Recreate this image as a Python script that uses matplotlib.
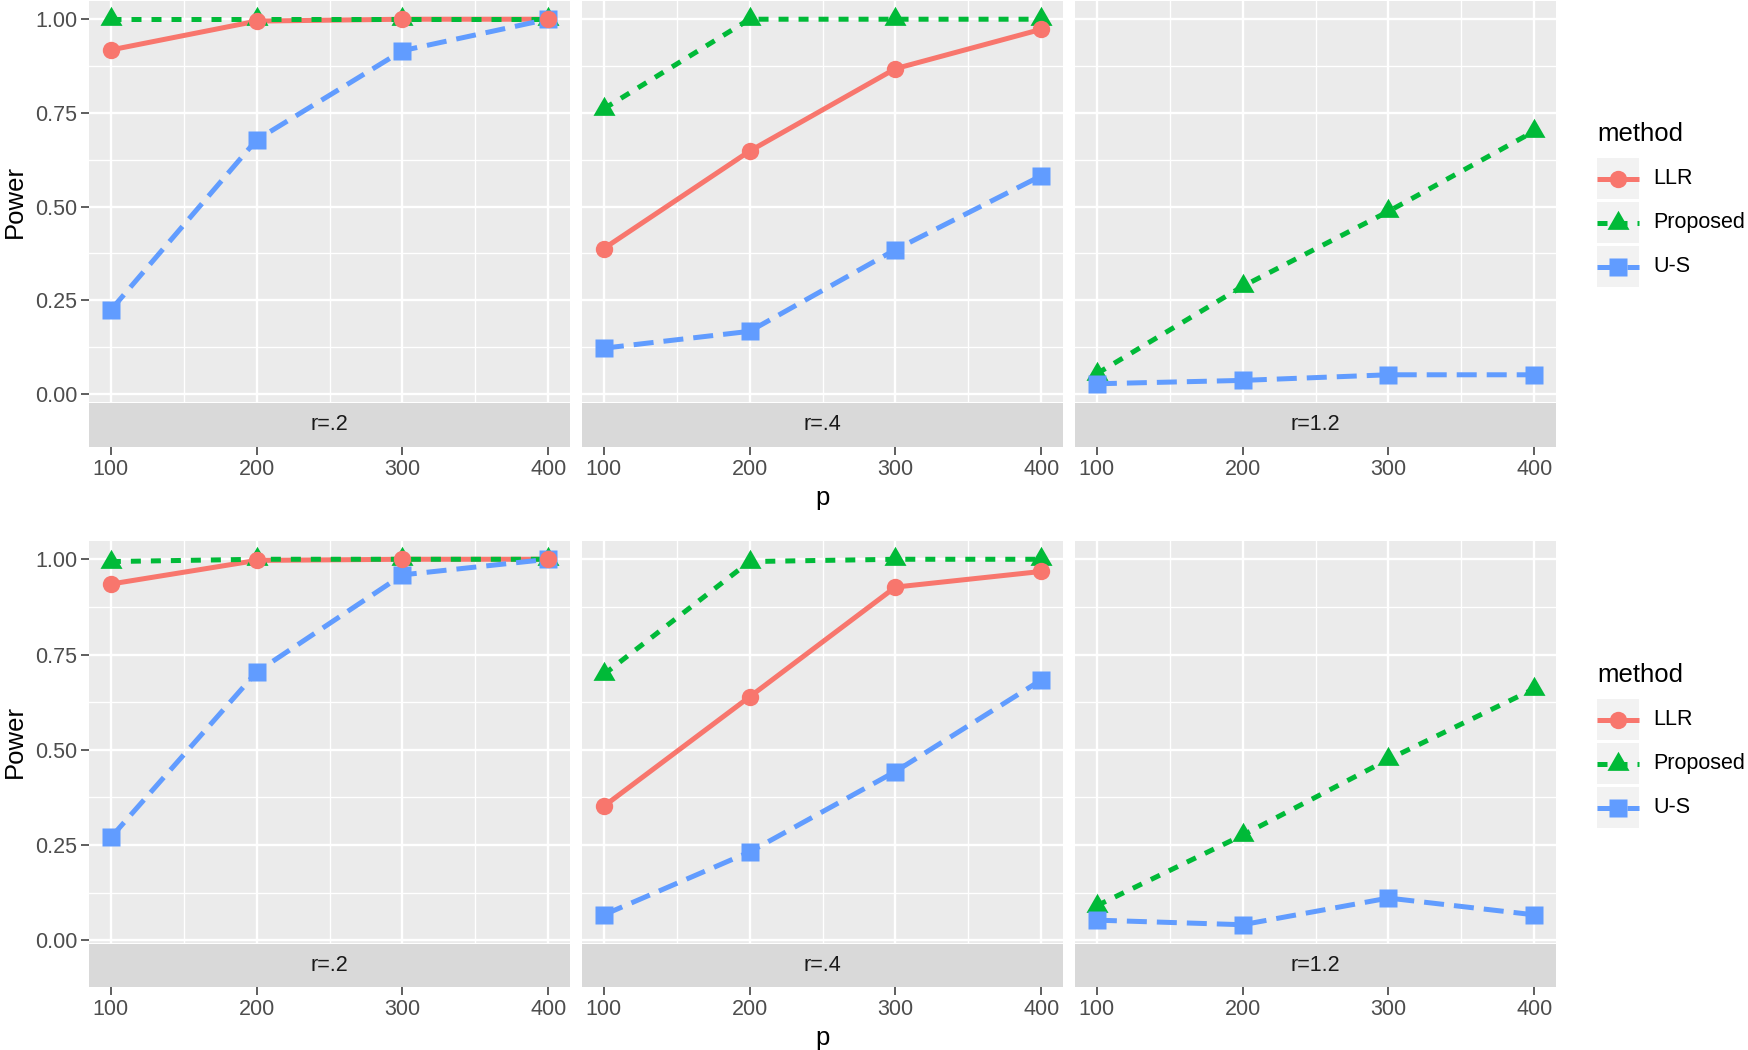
import numpy as np
import matplotlib
matplotlib.use("Agg")
import matplotlib.pyplot as plt
from matplotlib.patches import Rectangle
from matplotlib.lines import Line2D

# ---------------- data ----------------
p = [100, 200, 300, 400]
panel_labels = ["r=.2", "r=.4", "r=1.2"]
methods = ["LLR", "Proposed", "U-S"]
nan = np.nan

# top row (one list per facet)
top_llr = [[0.918, 0.995, 1.000, 1.000],
           [0.388, 0.648, 0.868, 0.973],
           [nan, nan, nan, nan]]
top_proposed = [[1.000, 1.000, 1.000, 1.000],
                [0.761, 1.000, 1.000, 1.000],
                [0.054, 0.287, 0.487, 0.701]]
top_us = [[0.224, 0.678, 0.916, 1.000],
          [0.122, 0.167, 0.385, 0.582],
          [0.027, 0.036, 0.051, 0.051]]

# bottom row
bot_llr = [[0.935, 0.997, 1.000, 1.000],
           [0.352, 0.639, 0.927, 0.968],
           [nan, nan, nan, nan]]
bot_proposed = [[0.994, 1.000, 1.000, 1.000],
                [0.698, 0.994, 1.000, 1.000],
                [0.091, 0.276, 0.475, 0.660]]
bot_us = [[0.270, 0.704, 0.959, 1.000],
          [0.067, 0.232, 0.443, 0.683],
          [0.053, 0.041, 0.111, 0.067]]

y_ticks = [0.00, 0.25, 0.50, 0.75, 1.00]
y_minor = [0.125, 0.375, 0.625, 0.875]
x_minor = [150, 250, 350]

# ---------------- style ----------------
plt.rcParams['font.family'] = ['Liberation Sans', 'DejaVu Sans']
colors = {"LLR": "#F8766D", "Proposed": "#00BA38", "U-S": "#619CFF"}
dashes = {"LLR": None, "Proposed": (2, 2), "U-S": (4, 2)}
markers = {"LLR": ("o", 12.5), "Proposed": ((3, 0, 0), 18.3), "U-S": ("s", 12.5)}
LW = 3.6
TXT = 15.5
TITLE = 18.5

W, H = 1749, 1050
fig = plt.figure(figsize=(W / 100, H / 100), dpi=100)


def px_rect(x0, y0, x1, y1):
    return [x0 / W, 1 - y1 / H, (x1 - x0) / W, (y1 - y0) / H]


cols_px = [(89, 570), (582, 1063), (1075, 1556)]
rows_px = [dict(panel=(1, 402), strip=(403, 447), pbase=505, leg_off=0),
           dict(panel=(541, 943), strip=(944, 987), pbase=1045, leg_off=541)]
row_data = [(top_llr, top_proposed, top_us), (bot_llr, bot_proposed, bot_us)]

xlo = min(p) - 0.05 * (max(p) - min(p))
xhi = max(p) + 0.05 * (max(p) - min(p))

for r, (rp, data) in enumerate(zip(rows_px, row_data)):
    allv = np.array(data, dtype=float)
    vmin, vmax = np.nanmin(allv), np.nanmax(allv)
    ylo = vmin - 0.05 * (vmax - vmin)
    yhi = vmax + 0.05 * (vmax - vmin)
    for c, (x0, x1) in enumerate(cols_px):
        ax = fig.add_axes(px_rect(x0, rp['panel'][0], x1, rp['panel'][1]))
        ax.set_facecolor('#EBEBEB')
        for s in ax.spines.values():
            s.set_visible(False)
        ax.set_xlim(xlo, xhi)
        ax.set_ylim(ylo, yhi)
        ax.set_xticks(p)
        ax.set_xticks(x_minor, minor=True)
        ax.set_yticks(y_ticks)
        ax.set_yticks(y_minor, minor=True)
        ax.grid(which='major', color='white', lw=1.7)
        ax.grid(which='minor', color='white', lw=0.95)
        ax.set_axisbelow(True)
        ax.tick_params(axis='x', which='both', length=0, labelbottom=False)
        ax.tick_params(axis='y', which='minor', length=0)
        if c == 0:
            ax.set_yticklabels([f"{v:.2f}" for v in y_ticks])
            ax.tick_params(axis='y', which='major', length=5.8, width=1.1,
                           color='#333333', labelcolor='#4D4D4D',
                           labelsize=TXT, pad=2.5)
        else:
            ax.tick_params(axis='y', which='major', length=0, labelleft=False)

        # lines
        for i, (m, series) in enumerate(zip(methods, data)):
            kw = dict(color=colors[m], lw=LW, solid_capstyle='butt',
                      dash_capstyle='butt', zorder=2 + i)
            if dashes[m] is not None:
                kw['dashes'] = dashes[m]
            ax.plot(p, series[c], **kw)
        # points (Proposed, U-S, LLR on top)
        for zi, m in enumerate(["Proposed", "U-S", "LLR"]):
            series = data[methods.index(m)]
            mk, ms = markers[m]
            ax.plot(p, series[c], ls='none', marker=mk, ms=ms,
                    mfc=colors[m], mec='none', zorder=10 + zi)

        # strip with x axis below
        sax = fig.add_axes(px_rect(x0, rp['strip'][0], x1, rp['strip'][1]))
        sax.set_facecolor('#D9D9D9')
        for s in sax.spines.values():
            s.set_visible(False)
        sax.set_xlim(xlo, xhi)
        sax.set_ylim(0, 1)
        sax.set_yticks([])
        sax.set_xticks(p)
        sax.set_xticklabels([str(v) for v in p])
        sax.tick_params(axis='x', length=5.8, width=1.1, color='#333333',
                        labelcolor='#4D4D4D', labelsize=TXT, pad=3)
        sax.text(0.5, 0.5, panel_labels[c], transform=sax.transAxes,
                 ha='center', va='center', fontsize=TXT, color='#1A1A1A')

    # axis titles
    pc = (rp['panel'][0] + rp['panel'][1]) / 2
    fig.text(15 / W, 1 - pc / H, "Power", rotation=90, ha='center',
             va='center', fontsize=TITLE, color='black')
    fig.text(822.5 / W, 1 - rp['pbase'] / H, "p", ha='center',
             va='baseline', fontsize=TITLE, color='black')

# ---------------- legends (drawn in a pixel overlay) ----------------
ov = fig.add_axes([0, 0, 1, 1])
ov.set_xlim(0, W)
ov.set_ylim(H, 0)
ov.axis('off')
for rp in rows_px:
    off = rp['leg_off']
    ov.text(1597, 141 + off, "method", ha='left', va='baseline',
            fontsize=TITLE, color='black')
    for k, m in enumerate(methods):
        ky0 = 158 + off + 44 * k
        ky1 = ky0 + 41
        kc = (ky0 + ky1) / 2
        ov.add_patch(Rectangle((1597, ky0), 42, 41, facecolor='#F2F2F2',
                               edgecolor='none'))
        kw = dict(color=colors[m], lw=LW, solid_capstyle='butt',
                  dash_capstyle='butt')
        if dashes[m] is not None:
            kw['dashes'] = dashes[m]
        ov.add_line(Line2D([1597, 1639], [kc, kc], **kw))
        mk, ms = markers[m]
        ov.add_line(Line2D([1618], [kc], ls='none', marker=mk, ms=ms,
                           mfc=colors[m], mec='none'))
        ov.text(1653, kc, m, ha='left', va='center', fontsize=TXT,
                color='black')

fig.savefig("out.png", dpi=100)
